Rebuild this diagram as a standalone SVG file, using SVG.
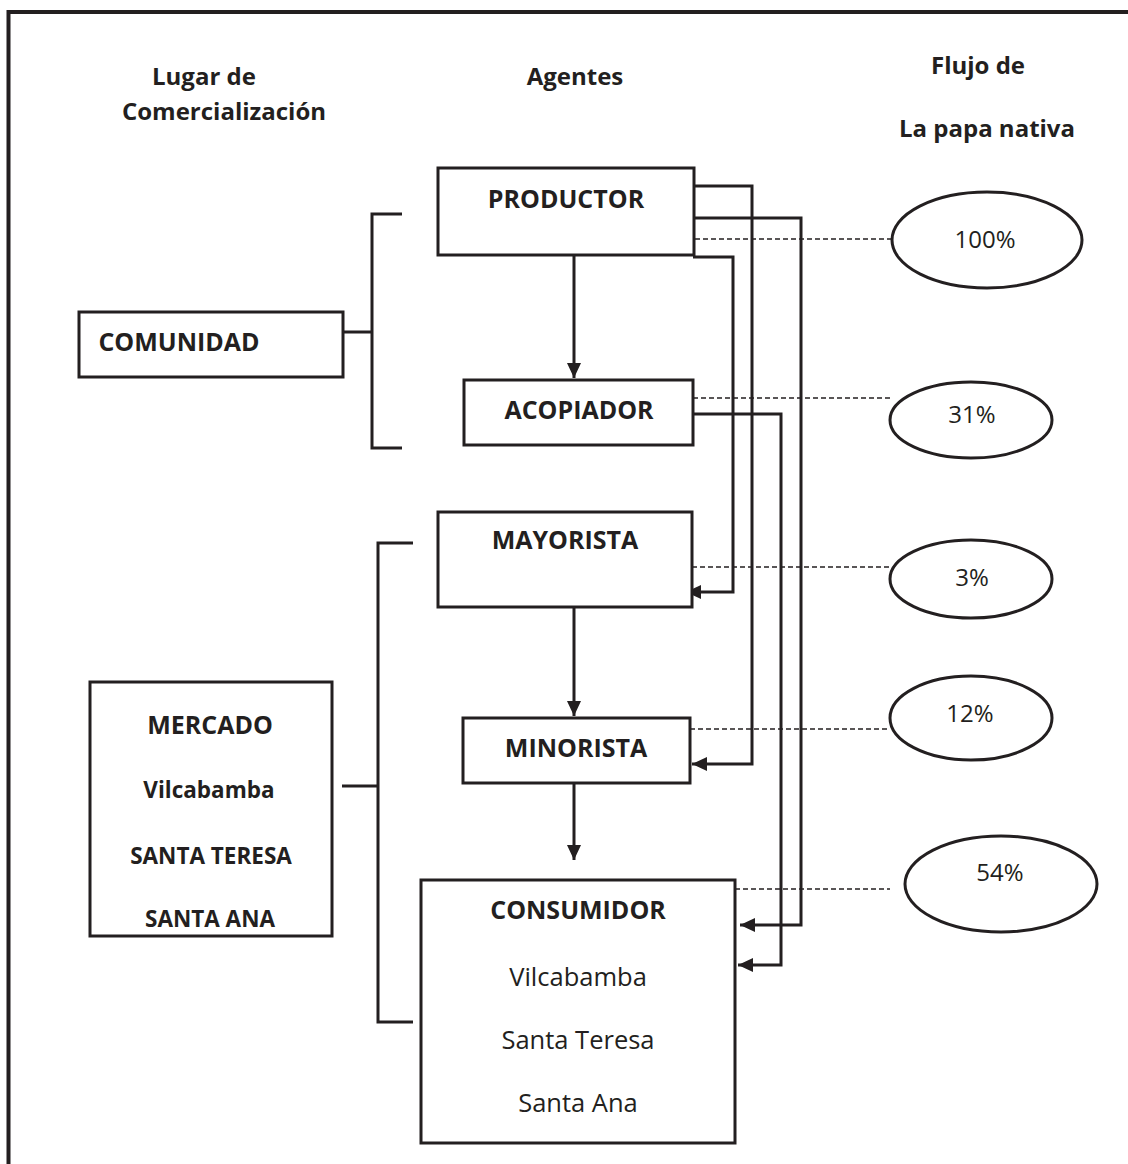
<svg xmlns="http://www.w3.org/2000/svg" width="1128" height="1164" viewBox="0 0 1128 1164">
<style>
.box{fill:#fff;stroke:#231f20;stroke-width:3}
.ln{fill:none;stroke:#231f20;stroke-width:3}
.dash{fill:none;stroke:#231f20;stroke-width:1.5;stroke-dasharray:5 3}
.ell{fill:#fff;stroke:#231f20;stroke-width:3}
.b{font-family:"Open Sans","Noto Sans",sans-serif;font-weight:bold;fill:#231f20;text-anchor:middle}
.r{font-family:"Open Sans","Noto Sans",sans-serif;fill:#231f20;text-anchor:middle}
.h{font-size:24px}
.t{font-size:25px}
.s{font-size:22.5px}
.p{font-size:24px}
</style>
<defs>
<marker id="ah" markerUnits="userSpaceOnUse" markerWidth="16" markerHeight="14" refX="15" refY="7" orient="auto">
<path d="M0,0 L15,7 L0,14 Z" fill="#231f20"/>
</marker>
</defs>
<rect width="1128" height="1164" fill="#fff"/>
<path d="M8.5,1164 V12 H1128" fill="none" stroke="#231f20" stroke-width="4"/>

<g id="headers">
<text class="b h" x="152" y="85" text-anchor="start" style="text-anchor:start">Lugar de</text>
<text class="b h" x="224" y="120">Comercialización</text>
<text class="b h" x="575" y="85">Agentes</text>
<text class="b h" x="978" y="74">Flujo de</text>
<text class="b h" x="987" y="137">La papa nativa</text>
</g>

<g id="connectors">
<path class="ln" d="M343,332 H372 M402,214 H372 V448 H402"/>
<path class="ln" d="M342,786 H378 M413,543 H378 V1022 H413"/>
<path class="ln" d="M574,255 V378" marker-end="url(#ah)"/>
<path class="ln" d="M574,607 V716" marker-end="url(#ah)"/>
<path class="ln" d="M574,783 V860" marker-end="url(#ah)"/>
<path class="ln" d="M695,186 H752 V764 H692" marker-end="url(#ah)"/>
<path class="ln" d="M693,218 H801 V925 H740" marker-end="url(#ah)"/>
<path class="ln" d="M693,257 H733 V592 H686" marker-end="url(#ah)"/>
<path class="ln" d="M693,414 H781 V965 H738" marker-end="url(#ah)"/>
<path class="dash" d="M695,239 H892"/>
<path class="dash" d="M693,398 H890"/>
<path class="dash" d="M692,567 H890"/>
<path class="dash" d="M690,729 H890"/>
<path class="dash" d="M735,889 H890"/>
</g>

<g id="productor">
<rect class="box" x="438" y="168" width="256" height="87"/>
<text class="b t" x="566" y="208">PRODUCTOR</text>
</g>
<g id="acopiador">
<rect class="box" x="464" y="380" width="229" height="65"/>
<text class="b t" x="579" y="419">ACOPIADOR</text>
</g>
<g id="mayorista">
<rect class="box" x="438" y="512" width="254" height="95"/>
<text class="b t" x="565" y="549">MAYORISTA</text>
</g>
<g id="minorista">
<rect class="box" x="463" y="718" width="227" height="65"/>
<text class="b t" x="576" y="757">MINORISTA</text>
</g>
<g id="consumidor">
<rect class="box" x="421" y="880" width="314" height="263"/>
<text class="b t" x="578" y="919">CONSUMIDOR</text>
<text class="r" x="578" y="986" font-size="25.5">Vilcabamba</text>
<text class="r" x="578" y="1049" font-size="25.5">Santa Teresa</text>
<text class="r" x="578" y="1112" font-size="25.5">Santa Ana</text>
</g>
<g id="comunidad">
<rect class="box" x="79" y="312" width="264" height="65"/>
<text class="b t" x="179" y="351">COMUNIDAD</text>
</g>
<g id="mercado">
<rect class="box" x="90" y="682" width="242" height="254"/>
<text class="b t" x="210" y="734">MERCADO</text>
<text class="b s" x="209" y="798">Vilcabamba</text>
<text class="b s" x="211" y="864">SANTA TERESA</text>
<text class="b s" x="210" y="927">SANTA ANA</text>
</g>

<g id="p100">
<ellipse class="ell" cx="987" cy="240" rx="95" ry="48"/>
<text class="r p" x="985" y="248">100%</text>
</g>
<g id="p31">
<ellipse class="ell" cx="971" cy="420" rx="81" ry="38"/>
<text class="r p" x="972" y="423">31%</text>
</g>
<g id="p3">
<ellipse class="ell" cx="971" cy="579" rx="81" ry="39"/>
<text class="r p" x="972" y="586">3%</text>
</g>
<g id="p12">
<ellipse class="ell" cx="971" cy="718" rx="81" ry="42"/>
<text class="r p" x="970" y="722">12%</text>
</g>
<g id="p54">
<ellipse class="ell" cx="1001" cy="884" rx="96" ry="48"/>
<text class="r p" x="1000" y="881">54%</text>
</g>
</svg>
